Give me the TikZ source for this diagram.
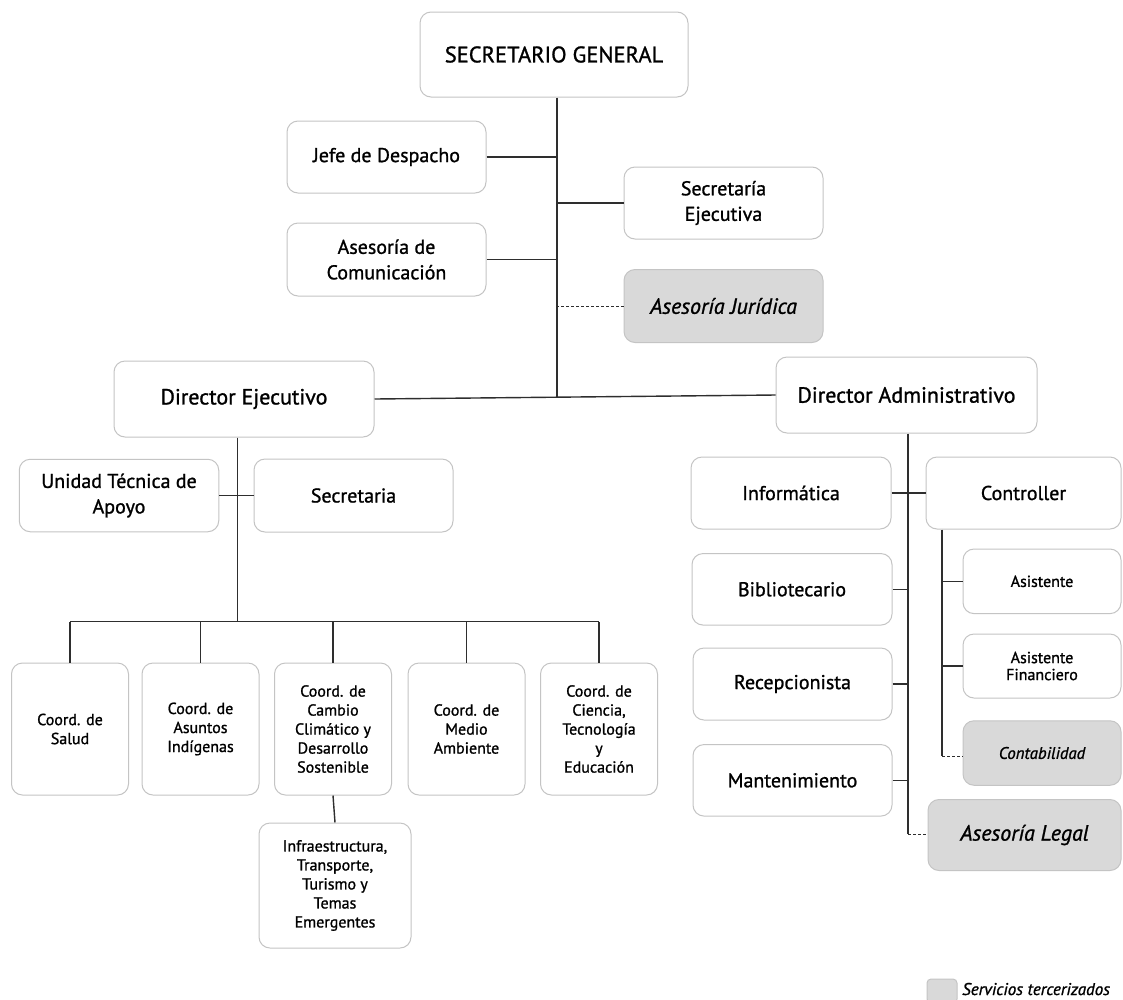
\documentclass[tikz,border=0pt]{standalone}
\usepackage{fontspec}
\setmainfont{PT Sans}[UprightFeatures={FakeBold=1.1}, ItalicFeatures={FakeBold=1.1}]
\definecolor{boxline}{HTML}{C4C4C4}
\definecolor{outfill}{HTML}{D9D9D9}
\definecolor{conn}{HTML}{2E2E2E}
\newcommand{\fsz}[2]{\fontsize{#1}{#2}\selectfont}
\tikzset{
  box/.style={draw=boxline, line width=1pt, rounded corners=11pt, fill=white,
    align=center, inner sep=0pt, text=black},
  outbox/.style={box, fill=outfill},
  big/.style={font=\fsz{20}{25.5}},
  small/.style={font=\fsz{16}{19}},
  link/.style={draw=conn, line width=1.4pt},
  dlink/.style={draw=conn, line width=1pt, dash pattern=on 3pt off 2pt},
}
\begin{document}
\begin{tikzpicture}[x=1pt,y=-1pt]
\useasboundingbox (0,0) rectangle (1123,999);
\fill[white] (0,0) rectangle (1123,999);

% top level
\node[box, font=\fsz{22.5}{25}, minimum width=268pt, minimum height=85pt] (sg) at (554,54.5) {SECRETARIO GENERAL};
\node[box, big, minimum width=199pt, minimum height=72pt] (jefe) at (386.5,157) {Jefe de Despacho};
\node[box, big, minimum width=199pt, minimum height=73pt] (com) at (386.5,259.5) {Asesoría de\\Comunicación};
\node[box, big, minimum width=199pt, minimum height=72pt] (secej) at (723.5,203) {Secretaría\\Ejecutiva};
\node[outbox, font=\fsz{22}{25}, minimum width=199pt, minimum height=73pt] (aj) at (723.5,306) {\itshape Asesoría Jurídica};
\node[box, font=\fsz{22}{25}, minimum width=260pt, minimum height=76pt] (de) at (244,399) {Director Ejecutivo};
\node[box, font=\fsz{22}{25}, minimum width=261pt, minimum height=76pt] (da) at (906.5,395) {Director Administrativo};

\coordinate (t) at (557,398);
\coordinate (dex) at (237.5,621.5);
\coordinate (dav) at (908,834);
\coordinate (cv) at (942,756);

% executive branch
\node[box, big, minimum width=199.5pt, minimum height=72.5pt] (uta) at (119,495.5) {Unidad Técnica de\\Apoyo};
\node[box, big, minimum width=199pt, minimum height=73pt] (sec) at (353.5,495.5) {Secretaria};

\node[box, small, minimum width=117pt, minimum height=132pt] (c1) at (70,729) {Coord. de\\Salud};
\node[box, small, minimum width=117pt, minimum height=132pt] (c2) at (200.5,729) {Coord. de\\Asuntos\\Indígenas};
\node[box, small, minimum width=117pt, minimum height=132pt] (c3) at (333,729) {Coord. de\\Cambio\\Climático y\\Desarrollo\\Sostenible};
\node[box, small, minimum width=117pt, minimum height=132pt] (c4) at (466.5,729) {Coord. de\\Medio\\Ambiente};
\node[box, small, minimum width=117pt, minimum height=132pt] (c5) at (599,729) {Coord. de\\Ciencia,\\Tecnología\\y\\Educación};
\node[box, small, minimum width=152pt, minimum height=125pt] (inf) at (335,885.5) {Infraestructura,\\Transporte,\\Turismo y\\Temas\\Emergentes};

% administrative branch
\node[box, big, minimum width=200pt, minimum height=72pt] (info) at (791,493) {Informática};
\node[box, big, minimum width=195pt, minimum height=72pt] (ctrl) at (1023.5,493) {Controller};
\node[box, big, minimum width=200pt, minimum height=71.5pt] (bib) at (792,589.3) {Bibliotecario};
\node[box, big, minimum width=199pt, minimum height=72pt] (rec) at (792.5,684) {Recepcionista};
\node[box, big, minimum width=199pt, minimum height=71.5pt] (man) at (792.5,780.3) {Mantenimiento};
\node[box, small, minimum width=158pt, minimum height=64.6pt] (asi) at (1042,581.3) {Asistente};
\node[box, small, font=\fsz{16}{17}, minimum width=158pt, minimum height=64pt] (asf) at (1042,666) {Asistente\\Financiero};
\node[outbox, font=\fsz{16.8}{19}, minimum width=158pt, minimum height=64.5pt] (cont) at (1042,753) {\itshape Contabilidad};
\node[outbox, font=\fsz{22}{25}, minimum width=193pt, minimum height=71pt] (al) at (1024.5,835) {\itshape Asesoría Legal};

% legend
\node[outbox, rounded corners=4pt, minimum width=30pt, minimum height=24pt] (leg) at (942,991) {};
\node[anchor=base west, inner sep=0pt, font=\fsz{17}{19}\itshape] (legt) at (962,995) {Servicios tercerizados};

% connectors: top
\draw[link] (sg.south -| t) -- (t);
\draw[link] (jefe.east) -- (jefe.east -| t);
\draw[link] (com.east) -- (com.east -| t);
\draw[link] (secej.west) -- (secej.west -| t);
\draw[dlink] (aj.west) -- (aj.west -| t);
\draw[link] (de.east) -- (da.west);

% executive
\draw[link] (de.south -| dex) -- (dex);
\draw[link] (uta.east) -- (sec.west);
\draw[link] (c1.north |- dex) -- (c5.north |- dex);
\foreach \c in {c1,c2,c3,c4,c5} \draw[link] (\c.north) -- (\c.north |- dex);
\draw[link] (c3.south) -- (inf.north);

% administrative
\draw[link] (da.south -| dav) -- (dav);
\draw[dlink] (dav) -- (al.west |- dav);
\draw[link] (info.east) -- (ctrl.west);
\draw[link] (bib.east) -- (bib.east -| dav);
\draw[link] (rec.east) -- (rec.east -| dav);
\draw[link] (man.east) -- (man.east -| dav);
\draw[link] (ctrl.south -| cv) -- (cv);
\draw[link] (asi.west) -- (asi.west -| cv);
\draw[link] (asf.west) -- (asf.west -| cv);
\draw[dlink] (cv) -- (cont.west |- cv);
\end{tikzpicture}
\end{document}
